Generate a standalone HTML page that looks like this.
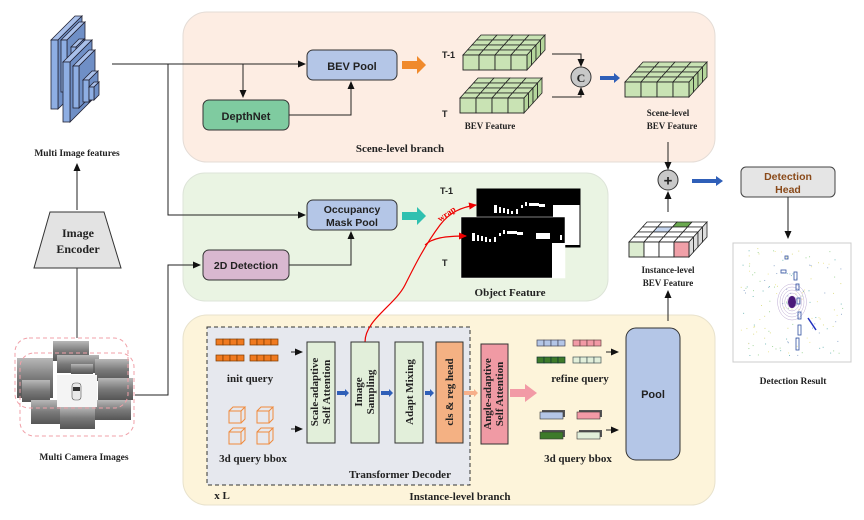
<!DOCTYPE html>
<html><head><meta charset="utf-8"><style>
html,body{margin:0;padding:0;background:#fff}
svg{display:block}
.s{font-family:"Liberation Serif",serif;font-weight:bold;fill:#222}
.a{font-family:"Liberation Sans",sans-serif;font-weight:bold;fill:#222}
</style></head><body>
<svg id="g" width="864" height="520" viewBox="0 0 864 520" xmlns="http://www.w3.org/2000/svg">
<defs>
<marker id="ar" markerWidth="8" markerHeight="8" refX="7" refY="4" orient="auto" markerUnits="userSpaceOnUse"><path d="M0,0.5 L8,4 L0,7.5z" fill="#111"/></marker>
<marker id="arr" markerWidth="8" markerHeight="8" refX="7" refY="4" orient="auto" markerUnits="userSpaceOnUse"><path d="M0,0.5 L8,4 L0,7.5z" fill="#e00"/></marker>
<linearGradient id="ph" x1="0" y1="0" x2="0" y2="1"><stop offset="0" stop-color="#b8b8b8"/><stop offset="0.5" stop-color="#7a7a7a"/><stop offset="1" stop-color="#555"/></linearGradient>
</defs>
<rect x="183" y="12" width="532" height="150" rx="24" fill="#fdede3" stroke="#e4dcd6"/>
<rect x="183" y="173" width="425" height="128" rx="22" fill="#eaf4e3" stroke="#dde4d8"/>
<rect x="183" y="315" width="532" height="190" rx="24" fill="#fdf4da" stroke="#e8e2cc"/>
<rect x="207" y="327" width="263" height="158" fill="#e6e8ee" stroke="#333" stroke-dasharray="4,3"/>

<g id="feat" stroke="#223" stroke-width="0.8"></g>
<text x="77" y="156" class="s" font-size="9.5" text-anchor="middle">Multi Image features</text>
<line x1="77" y1="210" x2="77" y2="164" stroke="#222" marker-end="url(#ar)"/>
<polygon points="50,212 104,212 121,268 34,268" fill="#e3e3e3" stroke="#333"/>
<text x="78" y="237" class="s" font-size="12" text-anchor="middle">Image</text>
<text x="78" y="253" class="s" font-size="12" text-anchor="middle">Encoder</text>
<line x1="77" y1="268" x2="77" y2="338" stroke="#333"/>
<g id="cam"></g>
<rect x="15" y="338" width="113" height="70" rx="14" fill="none" stroke="#f0a0a8" stroke-dasharray="4,3"/>
<rect x="20" y="353" width="114" height="83" rx="14" fill="none" stroke="#f0a0a8" stroke-dasharray="4,3"/>
<text x="84" y="460" class="s" font-size="9.5" text-anchor="middle">Multi Camera Images</text>

<polyline points="112,64 305,64" fill="none" stroke="#222" marker-end="url(#ar)"/>
<polyline points="168,64 168,215 305,215" fill="none" stroke="#222" marker-end="url(#ar)"/>
<line x1="243" y1="64" x2="243" y2="97" stroke="#222" marker-end="url(#ar)"/>
<polyline points="135,395 168,395 168,265 200,265" fill="none" stroke="#222" marker-end="url(#ar)"/>

<rect x="307" y="50" width="90" height="30" rx="6" fill="#b4c6e7" stroke="#333"/>
<text x="352" y="70" class="a" font-size="11" text-anchor="middle">BEV Pool</text>
<rect x="203" y="100" width="86" height="30" rx="6" fill="#7fcba0" stroke="#333"/>
<text x="246" y="120" class="a" font-size="11" text-anchor="middle">DepthNet</text>
<polyline points="289,115 351,115 351,82" fill="none" stroke="#222" marker-end="url(#ar)"/>
<polygon points="402,61 417,61 417,56 426,65 417,74 417,69 402,69" fill="#f08a2c"/>

<text x="442" y="58" class="a" font-size="9">T-1</text>
<text x="442" y="117" class="a" font-size="9">T</text>
<g id="grids"></g>
<text x="490" y="129" class="s" font-size="9" text-anchor="middle">BEV Feature</text>
<polyline points="552,54 581,54 581,66" fill="none" stroke="#222" marker-end="url(#ar)"/>
<polyline points="552,97 581,97 581,88" fill="none" stroke="#222" marker-end="url(#ar)"/>
<circle cx="581" cy="77" r="10" fill="#c8c8c8" stroke="#333"/>
<text x="581" y="82" class="s" font-size="12" text-anchor="middle">C</text>
<polygon points="600,76 614,76 614,73 620,78 614,83 614,80 600,80" fill="#2f5fb8"/>
<text x="668" y="116" class="s" font-size="9" text-anchor="middle">Scene-level</text>
<text x="672" y="129" class="s" font-size="9" text-anchor="middle">BEV Feature</text>
<text x="400" y="152" class="s" font-size="11" text-anchor="middle">Scene-level branch</text>

<line x1="668" y1="142" x2="668" y2="169" stroke="#222" marker-end="url(#ar)"/>
<line x1="668" y1="212" x2="668" y2="192" stroke="#222" marker-end="url(#ar)"/>
<circle cx="668" cy="180" r="10" fill="#c8c8c8" stroke="#333"/>
<text x="668" y="185.5" class="a" font-size="15" font-weight="normal" text-anchor="middle">+</text>
<polygon points="692,179 716,179 716,176 723,181 716,186 716,183 692,183" fill="#2f5fb8"/>
<rect x="741" y="167" width="94" height="30" rx="5" fill="#e5e5e5" stroke="#444"/>
<text x="788" y="180" class="a" font-size="10.5" style="fill:#8a4a1a" text-anchor="middle">Detection</text>
<text x="788" y="193" class="a" font-size="10.5" style="fill:#8a4a1a" text-anchor="middle">Head</text>
<line x1="788" y1="197" x2="788" y2="238" stroke="#222" marker-end="url(#ar)"/>
<rect x="733" y="243" width="118" height="119" fill="#fff" stroke="#ccc"/>
<g id="det"></g>
<text x="793" y="384" class="s" font-size="9.5" text-anchor="middle">Detection Result</text>
<text x="668" y="273" class="s" font-size="9" text-anchor="middle">Instance-level</text>
<text x="668" y="286" class="s" font-size="9" text-anchor="middle">BEV Feature</text>
<line x1="668" y1="321" x2="668" y2="291" stroke="#222" marker-end="url(#ar)"/>

<rect x="307" y="200" width="90" height="30" rx="6" fill="#b4c6e7" stroke="#333"/>
<text x="352" y="213" class="a" font-size="10.5" text-anchor="middle">Occupancy</text>
<text x="352" y="226" class="a" font-size="10.5" text-anchor="middle">Mask Pool</text>
<rect x="203" y="250" width="86" height="30" rx="6" fill="#d9b8d0" stroke="#333"/>
<text x="246" y="269" class="a" font-size="10.5" text-anchor="middle">2D Detection</text>
<polyline points="289,265 351,265 351,232" fill="none" stroke="#222" marker-end="url(#ar)"/>
<polygon points="402,212 417,212 417,207 426,216 417,225 417,220 402,220" fill="#2fc0b0"/>
<text x="440" y="194" class="a" font-size="9">T-1</text>
<text x="442" y="266" class="a" font-size="9">T</text>
<rect x="477" y="189" width="103" height="58" fill="#000"/>
<rect x="553" y="205" width="27" height="40" fill="#fff"/>
<rect x="477" y="189" width="103" height="58" fill="none" stroke="#000"/>
<rect x="461" y="217" width="104" height="61" fill="#000" stroke="#fff" stroke-width="0.5"/>
<rect x="552" y="243" width="13" height="35" fill="#fff"/>
<g id="obj" fill="#fff"></g>
<text x="510" y="296" class="s" font-size="11" text-anchor="middle">Object Feature</text>
<path d="M365,342 C365,320 395,305 405,285 C415,265 425,245 440,225 C450,212 462,207 476,205" fill="none" stroke="#e00" stroke-width="1.2" marker-end="url(#arr)"/>
<path d="M425,245 C432,238 445,236 466,236" fill="none" stroke="#e00" stroke-width="1.2" marker-end="url(#arr)"/>
<text x="0" y="0" class="s" font-size="9" style="fill:#e00" transform="translate(440,222) rotate(-35)">wrap</text>

<g id="inst"></g>
<rect x="307" y="342" width="28" height="101" fill="#e2efda" stroke="#333"/>
<rect x="351" y="342" width="28" height="101" fill="#e2efda" stroke="#333"/>
<rect x="395" y="342" width="28" height="101" fill="#e2efda" stroke="#333"/>
<rect x="436" y="342" width="27" height="101" fill="#f4b183" stroke="#333"/>
<rect x="481" y="344" width="27" height="100" fill="#f09aa4" stroke="#333"/>
<text class="s" font-size="11" text-anchor="middle" transform="translate(321,392) rotate(-90)"><tspan x="0" y="-3">Scale-adaptive</tspan><tspan x="0" y="9">Self Attention</tspan></text>
<text class="s" font-size="11" text-anchor="middle" transform="translate(365,392) rotate(-90)"><tspan x="0" y="-3">Image</tspan><tspan x="0" y="9">Sampling</tspan></text>
<text class="s" font-size="11" text-anchor="middle" transform="translate(413,392) rotate(-90)">Adapt Mixing</text>
<text class="s" font-size="11" text-anchor="middle" transform="translate(453,392) rotate(-90)">cls &amp; reg head</text>
<text class="s" font-size="11" text-anchor="middle" transform="translate(494,394) rotate(-90)"><tspan x="0" y="-3">Angle-adaptive</tspan><tspan x="0" y="9">Self Attention</tspan></text>
<polygon points="510,389 525,389 525,384 537,393 525,402 525,397 510,397" fill="#f29aa6"/>
<text x="250" y="382" class="s" font-size="11" text-anchor="middle">init query</text>
<text x="253" y="462" class="s" font-size="11" text-anchor="middle">3d query bbox</text>
<text x="400" y="478" class="s" font-size="11" text-anchor="middle">Transformer Decoder</text>
<text x="222" y="499" class="s" font-size="11" text-anchor="middle">x L</text>
<text x="460" y="500" class="s" font-size="11" text-anchor="middle">Instance-level branch</text>
<text x="580" y="382" class="s" font-size="11" text-anchor="middle">refine query</text>
<text x="578" y="462" class="s" font-size="11" text-anchor="middle">3d query bbox</text>
<line x1="291" y1="352" x2="302" y2="352" stroke="#222" marker-end="url(#ar)"/>
<line x1="291" y1="429" x2="302" y2="429" stroke="#222" marker-end="url(#ar)"/>
<line x1="606" y1="352" x2="618" y2="352" stroke="#222" marker-end="url(#ar)"/>
<line x1="606" y1="430" x2="618" y2="430" stroke="#222" marker-end="url(#ar)"/>
<rect x="626" y="328" width="54" height="132" rx="10" fill="#b4c6e7" stroke="#333"/>
<text x="653" y="398" class="a" font-size="11" text-anchor="middle">Pool</text>
</svg>
<script>
const NS="http://www.w3.org/2000/svg";
function el(p,t,a){const e=document.createElementNS(NS,t);for(const k in a)e.setAttribute(k,a[k]);p.appendChild(e);return e;}
const G=document.getElementById('grids');
function grid(x,y,cw,h,dx,dy,cols){
 const W=cw*4;
 const tc=cols.top||'#c9e3b4';
 for(let r=3;r>=0;r--)for(let c=0;c<4;c++){
  const ox=x+dx*(r/4),oy=y+dy*(r/4);
  const fill=(cols.topc&&cols.topc[r*4+c])||tc;
  el(G,'polygon',{points:`${ox+c*cw},${oy} ${ox+(c+1)*cw},${oy} ${ox+(c+1)*cw+dx/4},${oy+dy/4} ${ox+c*cw+dx/4},${oy+dy/4}`,fill:fill,stroke:'#222','stroke-width':0.8});
 }
 for(let r=0;r<4;r++){
  const ox=x+W+dx*(r/4),oy=y+dy*(r/4);
  el(G,'polygon',{points:`${ox},${oy} ${ox+dx/4},${oy+dy/4} ${ox+dx/4},${oy+dy/4+h} ${ox},${oy+h}`,fill:cols.side||'#b5d69c',stroke:'#222','stroke-width':0.8});
 }
 for(let c=0;c<4;c++)el(G,'rect',{x:x+c*cw,y:y,width:cw,height:h,fill:cols.front[c],stroke:'#222','stroke-width':0.9});
}
const gr='#c9e3b4';
grid(463,55,16,15,18,-20,{front:[gr,gr,gr,gr]});
grid(460,98,16,15,18,-20,{front:[gr,gr,gr,gr]});
grid(625,82,16,15,18,-20,{front:[gr,gr,gr,gr]});
const tcw=new Array(16).fill('#fff');tcw[3*4+2]='#6aa84f';tcw[2*4+1]='#c5d5ee';
grid(629,242,15,15,18,-20,{front:['#dcecd0','#fff','#fff','#f0a0a8'],top:'#fff',topc:tcw,side:'#ddd'});
const F=document.getElementById('feat');
function slab(x,y,w,h,k,c){
 el(F,'polygon',{points:`${x},${y} ${x+k},${y-k} ${x+k+w},${y-k} ${x+w},${y}`,fill:'#a9c0ea'});
 el(F,'polygon',{points:`${x+w},${y} ${x+w+k},${y-k} ${x+w+k},${y+h-k} ${x+w},${y+h}`,fill:'#6f8fc6'});
 el(F,'rect',{x:x,y:y,width:w,height:h,fill:c||'#8eaee3'});
}
slab(51,40,7,69,24);slab(61,40,6,52,18);slab(71,47,5,28,8);
slab(63,62,7,60,22);slab(73,66,6,42,16);slab(83,80,6,22,9);slab(89,87,5,13,5);
const C=document.getElementById('cam');
[[53,341,36,20],[17,358,36,40],[57,355,42,18],[95,359,34,22],[22,380,28,22],[98,378,35,22],[31,400,33,24],[95,400,36,20],[60,407,35,22],[71,364,22,10]].forEach(r=>el(C,'rect',{x:r[0],y:r[1],width:r[2],height:r[3],fill:'url(#ph)'}));
el(C,'rect',{x:57,y:375,width:40,height:32,fill:'#f4f4f4'});
el(C,'rect',{x:72,y:383,width:9,height:17,rx:3,fill:'#e8e8e8',stroke:'#555','stroke-width':0.6});
el(C,'rect',{x:73,y:387,width:7,height:4,fill:'#333'});
const O=document.getElementById('obj');
[[494,205,3,8],[499,207,2,6],[503,208,2,5],[507,209,2,5],[511,211,2,3],[516,209,2,5],[521,205,2,3],[525,202,2,4],[529,203,10,3],[539,204,6,3]].forEach(b=>{el(O,'rect',{x:b[0],y:b[1],width:b[2],height:b[3]});el(O,'rect',{x:b[0]-22,y:b[1]+28,width:b[2],height:b[3]});});
el(O,'rect',{x:536,y:233,width:14,height:6});el(O,'rect',{x:560,y:235,width:2,height:5});
const I=document.getElementById('inst');
function q(x,y,c,s){for(let i=0;i<4;i++)el(I,'rect',{x:x+i*7,y:y,width:7,height:6,fill:c,stroke:s||'#7a3a00','stroke-width':0.7});}
q(216,339,'#f07a20');q(250,339,'#f07a20');q(216,355,'#f07a20');q(250,355,'#f07a20');
q(537,340,'#b4c6e7','#445');q(573,340,'#f29aa6','#644');q(537,357,'#3d7a2a','#133');q(573,357,'#e2efda','#455');
function cube(x,y){el(I,'path',{d:`M${x},${y+4} h12 v12 h-12z M${x},${y+4} l4,-4 h12 l-4,4 M${x+12},${y+16} l4,-4 v-12`,fill:'none',stroke:'#f08a3c','stroke-width':1});}
cube(229,407);cube(257,407);cube(229,428);cube(257,428);
function bb(x,y,c){el(I,'path',{d:`M${x+2},${y-2} h23 v7 h-23z`,fill:'#555'});el(I,'rect',{x:x,y:y,width:23,height:7,fill:c,stroke:'#333','stroke-width':0.6});}
bb(540,412,'#b4c6e7');bb(577,412,'#f29aa6');bb(540,432,'#3d7a2a');bb(577,432,'#e2efda');
[[337,393,349],[381,393,393],[425,393,434]].forEach(a=>el(I,'polygon',{points:`${a[0]},391 ${a[2]-4},391 ${a[2]-4},389 ${a[2]},393 ${a[2]-4},397 ${a[2]-4},395 ${a[0]},395`,fill:'#2f5fb8'}));
el(I,'polygon',{points:'464,391 474,391 474,389 478,393 474,397 474,395 464,395',fill:'#f7b08a'});
const D=document.getElementById('det');
let seed=7;function rnd(){seed=(seed*9301+49297)%233280;return seed/233280;}
for(let i=0;i<150;i++){const x=740+rnd()*105,y=248+rnd()*108;const c=['#e0e090','#a8d8a0','#80c0c0','#9ab0d0','#f0e8a0'][i%5];el(D,'rect',{x:x,y:y,width:1,height:1,fill:c});}
for(let r=3;r<20;r+=3)el(D,'ellipse',{cx:792,cy:302,rx:r*0.8,ry:r,fill:'none',stroke:'#8a6ab0','stroke-width':0.4,opacity:0.7});
el(D,'ellipse',{cx:792,cy:302,rx:4,ry:6,fill:'#4a1a7a'});
[[794,272,3,8],[796,284,3,6],[797,298,3,6],[798,312,3,7],[798,325,3,10],[796,338,3,12],[781,270,5,3],[785,256,3,3]].forEach(b=>el(D,'rect',{x:b[0],y:b[1],width:b[2],height:b[3],fill:'none',stroke:'#3050a0','stroke-width':0.8}));
el(D,'line',{x1:808,y1:318,x2:816,y2:330,stroke:'#2030c0','stroke-width':1.5});
</script>
</body></html>
